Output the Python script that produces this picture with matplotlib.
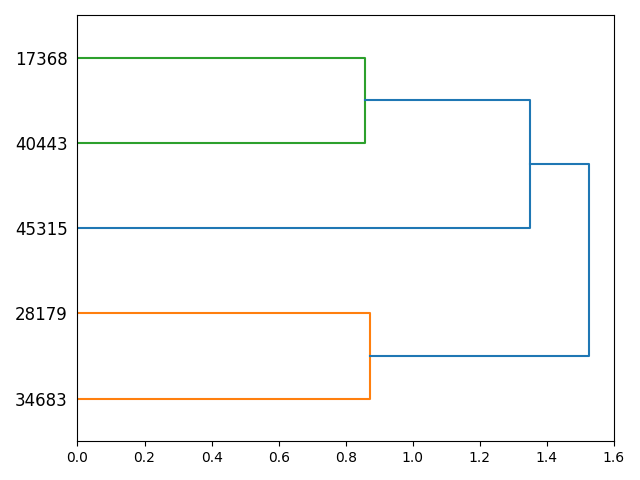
import matplotlib
matplotlib.use("Agg")
import matplotlib.pyplot as plt

# leaves in plotted order (bottom to top)
leaf_labels = ["34683", "28179", "45315", "40443", "17368"]
# merges: (child_a, child_b, height, colour); clusters numbered after leaves
merge_a = [0, 3, 2, 5]
merge_b = [1, 4, 6, 7]
merge_h = [0.873, 0.858, 1.350, 1.527]
merge_c = ["C1", "C2", "C0", "C0"]

n = len(leaf_labels)
ypos = {i: 10 * i + 5 for i in range(n)}
xpos = {i: 0.0 for i in range(n)}

fig, ax = plt.subplots(figsize=(6.4, 4.8), dpi=100)
for k, (a, b, h, c) in enumerate(zip(merge_a, merge_b, merge_h, merge_c)):
    idx = n + k
    ax.plot([xpos[a], h, h, xpos[b]], [ypos[a], ypos[a], ypos[b], ypos[b]], color=c, lw=1.5)
    ypos[idx] = (ypos[a] + ypos[b]) / 2
    xpos[idx] = h

ax.set_ylim(0, 10 * n)
ax.set_xlim(0, 1.6)
ax.set_yticks([10 * i + 5 for i in range(n)])
ax.set_yticklabels(leaf_labels, fontsize=12)
for line in ax.get_yticklines():
    line.set_visible(False)
fig.tight_layout()
fig.savefig("out.png")
